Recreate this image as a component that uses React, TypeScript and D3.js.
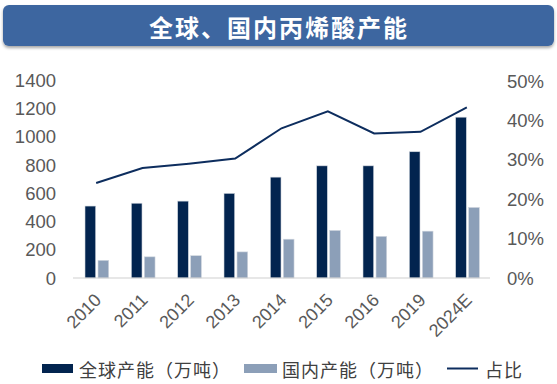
import React from 'react';
import * as d3 from 'd3';

const years = ['2010', '2011', '2012', '2013', '2014', '2015', '2016', '2019', '2024E'];
const globalCap = [510, 530, 545, 600, 715, 795, 795, 895, 1140];
const domesticCap = [125, 150, 158, 185, 275, 337, 295, 332, 500];
const shareRatio = [0.241, 0.279, 0.29, 0.303, 0.38, 0.423, 0.367, 0.371, 0.433];
const leftTicks = [0, 200, 400, 600, 800, 1000, 1200, 1400];
const rightTicks = [0, 0.1, 0.2, 0.3, 0.4, 0.5];
const seriesNames = ['全球产能（万吨）', '国内产能（万吨）', '占比'];

const WIDTH = 557;
const HEIGHT = 384;
const NUM_FONT = '"Liberation Sans", Arial, sans-serif';
const CJK_FONT = '"Noto Sans CJK SC", sans-serif';
const DARK = '#02244f';
const LIGHT = '#8c9fb8';
const LINE = '#0d2d5e';

const App = () => {
  const x = d3.scaleBand<string>().domain(years).range([73, 490]);
  const x1 = d3.scaleBand<string>()
    .domain(['g', 'd'])
    .range([12, 35.7])
    .paddingInner(0.18);
  const yLeft = d3.scaleLinear().domain([0, 1400]).range([278, 80.5]);
  const yRight = d3.scaleLinear().domain([0, 0.5]).range([278, 81]);

  const center = (c: string) => (x(c) as number) + x.bandwidth() / 2;
  const line = d3.line<number>()
    .x((_, i) => center(years[i]))
    .y((d) => yRight(d))(shareRatio) as string;

  return (
    <svg
      width={WIDTH}
      height={HEIGHT}
      style={{ position: 'absolute', left: 0, top: 0, background: '#fff' }}
    >
      <defs>
        <filter id="shadow" x="-5%" y="-20%" width="110%" height="160%">
          <feDropShadow dx="0" dy="2" stdDeviation="1.5" floodColor="#000" floodOpacity="0.35" />
        </filter>
      </defs>
      {/* title bar */}
      <rect x={3} y={5} width={551} height={41} rx={6} fill="#3d66a0" filter="url(#shadow)" />
      <text
        x={279}
        y={26}
        textAnchor="middle"
        dominantBaseline="central"
        fill="#fff"
        fontFamily={CJK_FONT}
        fontWeight={700}
        fontSize={24}
        letterSpacing={2}
      >
        全球、国内丙烯酸产能
      </text>

      {/* bars */}
      {years.map((c, i) => (
        <g key={c} transform={`translate(${x(c)},0)`}>
          <rect
            x={x1('g')}
            y={yLeft(globalCap[i])}
            width={x1.bandwidth()}
            height={yLeft(0) - yLeft(globalCap[i])}
            fill={DARK}
            stroke="#d0d6de"
            strokeWidth={0.6}
          />
          <rect
            x={x1('d')}
            y={yLeft(domesticCap[i])}
            width={x1.bandwidth()}
            height={yLeft(0) - yLeft(domesticCap[i])}
            fill={LIGHT}
            stroke="#d0d6de"
            strokeWidth={0.6}
          />
        </g>
      ))}

      {/* axis line */}
      <line x1={73} x2={490} y1={yLeft(0)} y2={yLeft(0)} stroke="#d0d0d0" strokeWidth={1.2} />

      {/* share line */}
      <path d={line} fill="none" stroke={LINE} strokeWidth={2} />

      {/* ticks */}
      <g fontFamily={NUM_FONT} fontSize={18.5} fill="#595959">
        {leftTicks.map((t) => (
          <text key={t} x={56} y={yLeft(t)} textAnchor="end" dominantBaseline="central">
            {t}
          </text>
        ))}
        {rightTicks.map((t) => (
          <text key={t} x={507} y={yRight(t)} textAnchor="start" dominantBaseline="central">
            {d3.format('.0%')(t)}
          </text>
        ))}
        {years.map((c) => (
          <text
            key={c}
            transform={`translate(${center(c) + 2},${297}) rotate(-45)`}
            textAnchor="end"
            dominantBaseline="central"
            fontSize={18}
          >
            {c}
          </text>
        ))}
      </g>

      {/* legend */}
      <g fontFamily={CJK_FONT} fontSize={18} fill="#404040" letterSpacing={1}>
        <rect x={42} y={364} width={31} height={9} fill={DARK} />
        <text x={79} y={369} dominantBaseline="central">{seriesNames[0]}</text>
        <rect x={244} y={364} width={33} height={9} fill={LIGHT} />
        <text x={282} y={369} dominantBaseline="central">{seriesNames[1]}</text>
        <line x1={447} x2={478} y1={368.5} y2={368.5} stroke={LINE} strokeWidth={2} />
        <text x={485} y={369} dominantBaseline="central">{seriesNames[2]}</text>
      </g>
    </svg>
  );
};

export default App;
